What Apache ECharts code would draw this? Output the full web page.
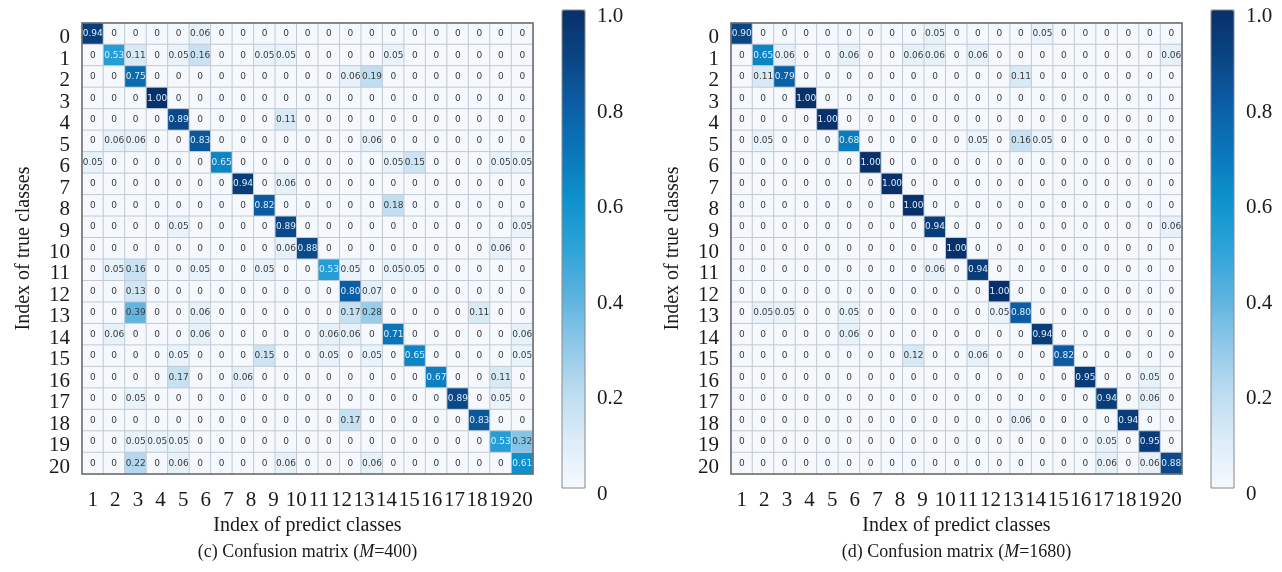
<!DOCTYPE html>
<html>
<head>
<meta charset="utf-8">
<script src="https://cdn.jsdelivr.net/npm/echarts@6/dist/echarts.min.js"></script>
<style>
html,body{margin:0;padding:0;background:#fff;}
#chart{width:1282px;height:572px;}
</style>
</head>
<body>
<div id="chart"></div>
<script>
// true class labels (rows), predicted tick labels (x axis)
const rowLabels = ['0','1','2','3','4','5','6','7','8','9','10','11','12','13','14','15','16','17','18','19','20'];
const xTickLabels = ['1','2','3','4','5','6','7','8','9','10','11','12','13','14','15','16','17','18','19','20'];
const colorbarTicks = [0, 0.2, 0.4, 0.6, 0.8, 1.0];

// Confusion matrix (M=400), one row per true class, 21 columns
const m400 = [
  [0.94,0,0,0,0,0.06,0,0,0,0,0,0,0,0,0,0,0,0,0,0,0],
  [0,0.53,0.11,0,0.05,0.16,0,0,0.05,0.05,0,0,0,0,0.05,0,0,0,0,0,0],
  [0,0,0.75,0,0,0,0,0,0,0,0,0,0.06,0.19,0,0,0,0,0,0,0],
  [0,0,0,1.00,0,0,0,0,0,0,0,0,0,0,0,0,0,0,0,0,0],
  [0,0,0,0,0.89,0,0,0,0,0.11,0,0,0,0,0,0,0,0,0,0,0],
  [0,0.06,0.06,0,0,0.83,0,0,0,0,0,0,0,0.06,0,0,0,0,0,0,0],
  [0.05,0,0,0,0,0,0.65,0,0,0,0,0,0,0,0.05,0.15,0,0,0,0.05,0.05],
  [0,0,0,0,0,0,0,0.94,0,0.06,0,0,0,0,0,0,0,0,0,0,0],
  [0,0,0,0,0,0,0,0,0.82,0,0,0,0,0,0.18,0,0,0,0,0,0],
  [0,0,0,0,0.05,0,0,0,0,0.89,0,0,0,0,0,0,0,0,0,0,0.05],
  [0,0,0,0,0,0,0,0,0,0.06,0.88,0,0,0,0,0,0,0,0,0.06,0],
  [0,0.05,0.16,0,0,0.05,0,0,0.05,0,0,0.53,0.05,0,0.05,0.05,0,0,0,0,0],
  [0,0,0.13,0,0,0,0,0,0,0,0,0,0.80,0.07,0,0,0,0,0,0,0],
  [0,0,0.39,0,0,0.06,0,0,0,0,0,0,0.17,0.28,0,0,0,0,0.11,0,0],
  [0,0.06,0,0,0,0.06,0,0,0,0,0,0.06,0.06,0,0.71,0,0,0,0,0,0.06],
  [0,0,0,0,0.05,0,0,0,0.15,0,0,0.05,0,0.05,0,0.65,0,0,0,0,0.05],
  [0,0,0,0,0.17,0,0,0.06,0,0,0,0,0,0,0,0,0.67,0,0,0.11,0],
  [0,0,0.05,0,0,0,0,0,0,0,0,0,0,0,0,0,0,0.89,0,0.05,0],
  [0,0,0,0,0,0,0,0,0,0,0,0,0.17,0,0,0,0,0,0.83,0,0],
  [0,0,0.05,0.05,0.05,0,0,0,0,0,0,0,0,0,0,0,0,0,0,0.53,0.32],
  [0,0,0.22,0,0.06,0,0,0,0,0.06,0,0,0,0.06,0,0,0,0,0,0,0.61]
];

// Confusion matrix (M=1680)
const m1680 = [
  [0.90,0,0,0,0,0,0,0,0,0.05,0,0,0,0,0.05,0,0,0,0,0,0],
  [0,0.65,0.06,0,0,0.06,0,0,0.06,0.06,0,0.06,0,0,0,0,0,0,0,0,0.06],
  [0,0.11,0.79,0,0,0,0,0,0,0,0,0,0,0.11,0,0,0,0,0,0,0],
  [0,0,0,1.00,0,0,0,0,0,0,0,0,0,0,0,0,0,0,0,0,0],
  [0,0,0,0,1.00,0,0,0,0,0,0,0,0,0,0,0,0,0,0,0,0],
  [0,0.05,0,0,0,0.68,0,0,0,0,0,0.05,0,0.16,0.05,0,0,0,0,0,0],
  [0,0,0,0,0,0,1.00,0,0,0,0,0,0,0,0,0,0,0,0,0,0],
  [0,0,0,0,0,0,0,1.00,0,0,0,0,0,0,0,0,0,0,0,0,0],
  [0,0,0,0,0,0,0,0,1.00,0,0,0,0,0,0,0,0,0,0,0,0],
  [0,0,0,0,0,0,0,0,0,0.94,0,0,0,0,0,0,0,0,0,0,0.06],
  [0,0,0,0,0,0,0,0,0,0,1.00,0,0,0,0,0,0,0,0,0,0],
  [0,0,0,0,0,0,0,0,0,0.06,0,0.94,0,0,0,0,0,0,0,0,0],
  [0,0,0,0,0,0,0,0,0,0,0,0,1.00,0,0,0,0,0,0,0,0],
  [0,0.05,0.05,0,0,0.05,0,0,0,0,0,0,0.05,0.80,0,0,0,0,0,0,0],
  [0,0,0,0,0,0.06,0,0,0,0,0,0,0,0,0.94,0,0,0,0,0,0],
  [0,0,0,0,0,0,0,0,0.12,0,0,0.06,0,0,0,0.82,0,0,0,0,0],
  [0,0,0,0,0,0,0,0,0,0,0,0,0,0,0,0,0.95,0,0,0.05,0],
  [0,0,0,0,0,0,0,0,0,0,0,0,0,0,0,0,0,0.94,0,0.06,0],
  [0,0,0,0,0,0,0,0,0,0,0,0,0,0.06,0,0,0,0,0.94,0,0],
  [0,0,0,0,0,0,0,0,0,0,0,0,0,0,0,0,0,0.05,0,0.95,0],
  [0,0,0,0,0,0,0,0,0,0,0,0,0,0,0,0,0,0.06,0,0.06,0.88]
];

const colCats = m400[0].map((_, i) => 'c' + (i + 1));
const cmap = ['#f5f9fd','#dcecf8','#bcdcf0','#8ec8e9','#5cb3df','#2ea3d8','#0d93cd','#0a77ba','#0b5ea6','#0a4584','#08306b'];

const SERIF = '"Liberation Serif", "Times New Roman", serif';
const TXT = '#1a1a1a';

function cells(m) {
  const out = [];
  m.forEach((row, r) => row.forEach((v, c) => {
    out.push({ value: [c, r, v], label: { color: v > 0.5 ? '#dcecf8' : '#3a3a3a' } });
  }));
  return out;
}

const L = { x: 82, cb: 562 };
const R = { x: 731, cb: 1211 };
const TOP = 23, SIZE = 451, CELL = SIZE / 21;

function grids(p) {
  return [
    { left: p.x, top: TOP, width: SIZE, height: SIZE, show: true, borderColor: '#6a6a6a', borderWidth: 1.5, z: 5, containLabel: false },
    { left: p.x + CELL / 2, top: TOP, width: SIZE - CELL, height: SIZE, show: false },
    { left: p.cb, top: 10, width: 23, height: 478, show: true, borderColor: '#888', borderWidth: 1, z: 10 }
  ];
}

function xAxes(g) {
  return [
    { gridIndex: g, type: 'category', data: colCats, axisLabel: { show: false }, axisTick: { show: false }, axisLine: { show: false }, splitLine: { show: false },
      name: 'Index of predict classes', nameLocation: 'middle', nameGap: 42,
      nameTextStyle: { fontFamily: SERIF, fontSize: 20, color: TXT } },
    { gridIndex: g + 1, type: 'category', data: xTickLabels, boundaryGap: false, axisTick: { show: false }, axisLine: { show: false },
      axisLabel: { fontFamily: SERIF, fontSize: 21, color: TXT, margin: 16, interval: 0 } },
    { gridIndex: g + 2, type: 'value', show: false }
  ];
}

function yAxes(g) {
  return [
    { gridIndex: g, type: 'category', data: rowLabels, inverse: true, axisTick: { show: false }, axisLine: { show: false }, splitLine: { show: false },
      axisLabel: { fontFamily: SERIF, fontSize: 21, color: TXT, margin: 12, interval: 0, verticalAlign: 'top', lineHeight: 8 },
      name: 'Index of true classes', nameLocation: 'middle', nameRotate: 90, nameGap: 48,
      nameTextStyle: { fontFamily: SERIF, fontSize: 20, color: TXT } },
    { gridIndex: g + 1, type: 'value', show: false },
    { gridIndex: g + 2, type: 'value', min: 0, max: 1, interval: 0.2, position: 'right',
      axisLine: { show: false }, axisTick: { show: false }, splitLine: { show: false },
      axisLabel: { fontFamily: SERIF, fontSize: 21, color: TXT, margin: 12, verticalAlign: 'top', lineHeight: 13,
        formatter: v => (colorbarTicks.indexOf(+v.toFixed(1)) >= 0 ? (v === 0 ? '0' : v.toFixed(1)) : '') } }
  ];
}

function heat(xi, yi, m) {
  return {
    type: 'heatmap', xAxisIndex: xi, yAxisIndex: yi, data: cells(m),
    itemStyle: { borderColor: '#c2cad5', borderWidth: 1 },
    label: { show: true, fontFamily: '"DejaVu Sans", sans-serif', fontSize: 9,
      formatter: p => (p.value[2] === 0 ? '0' : p.value[2].toFixed(2)) },
    emphasis: { disabled: true }
  };
}

function caption(x, tag, m) {
  const a = { fontFamily: SERIF, fontSize: 18, fill: TXT, color: TXT };
  const i = { fontFamily: SERIF, fontSize: 18, fontStyle: 'italic', fill: TXT, color: TXT };
  return { type: 'text', x: x, y: 552, style: { text: '{a|(' + tag + ') Confusion matrix (}{i|M}{a|=' + m + ')}', align: 'center', verticalAlign: 'middle', rich: { a: a, i: i } } };
}

const chart = echarts.init(document.getElementById('chart'), null, { renderer: 'canvas' });
chart.setOption({
  animation: false,
  backgroundColor: '#ffffff',
  grid: grids(L).concat(grids(R)),
  xAxis: xAxes(0).concat(xAxes(3)),
  yAxis: yAxes(0).concat(yAxes(3)),
  visualMap: [
    { type: 'continuous', min: 0, max: 1, seriesIndex: 0, calculable: false, left: L.cb, top: 10, itemWidth: 23, itemHeight: 478, padding: 0, inRange: { color: cmap } },
    { type: 'continuous', min: 0, max: 1, seriesIndex: 1, calculable: false, left: R.cb, top: 10, itemWidth: 23, itemHeight: 478, padding: 0, inRange: { color: cmap } }
  ],
  series: [ heat(0, 0, m400), heat(3, 3, m1680) ],
  graphic: [
    caption(L.x + SIZE / 2, 'c', '400'),
    caption(R.x + SIZE / 2, 'd', '1680')
  ]
});
</script>
</body>
</html>
